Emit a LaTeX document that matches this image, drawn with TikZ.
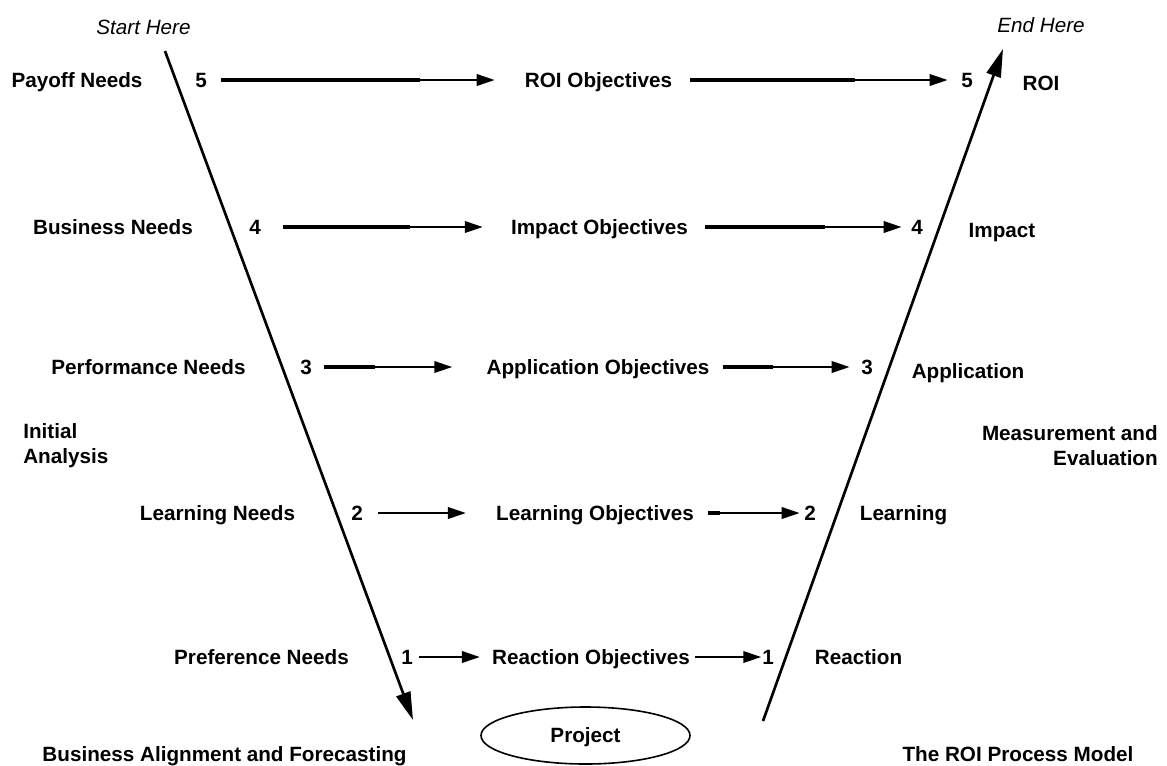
\documentclass[tikz,border=0pt]{standalone}
\usepackage{fontspec}
\setmainfont{Liberation Sans}
\usetikzlibrary{arrows.meta,shapes.geometric}
\begin{document}
\begin{tikzpicture}[x=0.75pt,y=-0.75pt,
  lbl/.style={font=\fontsize{15.5}{18.75}\selectfont\bfseries, inner sep=0pt,
              text height=11.1pt, text depth=0pt},
  hint/.style={font=\fontsize{15.5}{18.75}\selectfont\itshape, inner sep=0pt,
               text height=11.1pt, text depth=0pt},
  block/.style={font=\fontsize{15.5}{18.75}\selectfont\bfseries, inner sep=0pt},
  heavy/.style={line width=3pt},
  flow/.style={line width=1.9pt, -{Triangle[length=13.5pt,width=8.5pt]}},
  vee/.style={line width=2pt, -{Triangle[length=21pt,width=11pt]}},
]
\useasboundingbox (0,0) rectangle (1167,765);

% top hints
\node[hint] (start) at (143.5,27) {Start Here};
\node[hint] (end)   at (1041,25)  {End Here};

% the two legs of the V
\coordinate (ltop) at (165,51);
\coordinate (lbot) at (413,720);
\coordinate (rbot) at (763,721);
\coordinate (rtop) at (1003,49);
\draw[vee] (ltop) -- (lbot);
\draw[vee] (rbot) -- (rtop);

% level 5
\node[lbl] (need5) at (77,80)    {Payoff Needs};
\node[lbl] (nl5)   at (201,80)   {5};
\node[lbl] (obj5)  at (598.5,80) {ROI Objectives};
\node[lbl] (nr5)   at (967,80)   {5};
\node[lbl] (res5)  at (1041,83)  {ROI};

% level 4
\node[lbl] (need4) at (113,227)   {Business Needs};
\node[lbl] (nl4)   at (255,227)   {4};
\node[lbl] (obj4)  at (599.5,227) {Impact Objectives};
\node[lbl] (nr4)   at (917,227)   {4};
\node[lbl] (res4)  at (1002,230)  {Impact};

% level 3
\node[lbl] (need3) at (148.5,367) {Performance Needs};
\node[lbl] (nl3)   at (306,367)   {3};
\node[lbl] (obj3)  at (598,367)   {Application Objectives};
\node[lbl] (nr3)   at (867,367)   {3};
\node[lbl] (res3)  at (968,371)   {Application};

% level 2
\node[lbl] (need2) at (217.5,513) {Learning Needs};
\node[lbl] (nl2)   at (357,513)   {2};
\node[lbl] (obj2)  at (595,513)   {Learning Objectives};
\node[lbl] (nr2)   at (810,513)   {2};
\node[lbl] (res2)  at (903.5,513) {Learning};

% level 1
\node[lbl] (need1) at (261.5,657) {Preference Needs};
\node[lbl] (nl1)   at (407,657)   {1};
\node[lbl] (obj1)  at (591,657)   {Reaction Objectives};
\node[lbl] (nr1)   at (768,657)   {1};
\node[lbl] (res1)  at (858.5,657) {Reaction};

% side captions
\node[block, align=left, anchor=north west]  (init) at (23,423)   {Initial\\Analysis};
\node[block, align=right, anchor=north east] (meas) at (1158,425) {Measurement and\\Evaluation};

% bottom
\node[draw, ellipse, line width=1.2pt, minimum width=156.75pt, minimum height=42.75pt,
      lbl] (proj) at (585.5,735.5) {Project};
\node[lbl] (align) at (224.5,754) {Business Alignment and Forecasting};
\node[lbl] (model) at (1018,754)  {The ROI Process Model};

% horizontal connectors: heavy first stretch, lighter arrow to the tip
\draw[heavy, shorten <=10.7pt, shorten >=78.75pt] (nl5) -- (obj5);
\draw[flow,  shorten <=10.7pt, shorten >=22.5pt]  (nl5) -- (obj5);
\draw[heavy, shorten <=13.5pt, shorten >=79.7pt]  (obj5) -- (nr5);
\draw[flow,  shorten <=13.5pt, shorten >=10pt]    (obj5) -- (nr5);

\draw[heavy, shorten <=16.7pt, shorten >=75.75pt] (nl4) -- (obj4);
\draw[flow,  shorten <=16.7pt, shorten >=21pt]    (nl4) -- (obj4);
\draw[heavy, shorten <=12.75pt, shorten >=64.7pt] (obj4) -- (nr4);
\draw[flow,  shorten <=12.75pt, shorten >=7pt]    (obj4) -- (nr4);

\draw[heavy, shorten <=9.2pt, shorten >=83.25pt]  (nl3) -- (obj3);
\draw[flow,  shorten <=9.2pt, shorten >=25.5pt]   (nl3) -- (obj3);
\draw[heavy, shorten <=9.75pt, shorten >=66.2pt]  (obj3) -- (nr3);
\draw[flow,  shorten <=9.75pt, shorten >=8.5pt]   (obj3) -- (nr3);

\draw[flow,  shorten <=11.5pt, shorten >=22.5pt]  (nl2) -- (obj2);
\draw[heavy, shorten <=10.5pt, shorten >=63.2pt]  (obj2) -- (nr2);
\draw[flow,  shorten <=10.5pt, shorten >=3.2pt]   (obj2) -- (nr2);

\draw[flow,  shorten <=4.7pt, shorten >=9pt]      (nl1) -- (obj1);
\draw[flow,  shorten <=3.75pt, shorten >=0.5pt]   (obj1) -- (nr1);
\end{tikzpicture}
\end{document}
